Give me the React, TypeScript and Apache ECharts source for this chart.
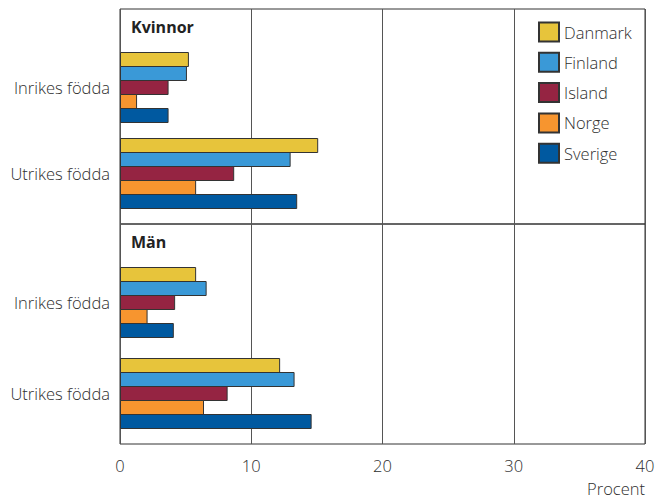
import React, { useEffect, useRef } from "react";
import * as echarts from "echarts";

const categories = ["Inrikes födda", "Utrikes födda"];
const countries = ["Danmark", "Finland", "Island", "Norge", "Sverige"];
const colors = ["#E7C43B", "#3A99D7", "#952442", "#F7952F", "#0059A0"];
// values per country: [Inrikes födda, Utrikes födda]
const kvinnor = [
  [5.25, 15.1],
  [5.1, 13.0],
  [3.7, 8.7],
  [1.3, 5.8],
  [3.7, 13.5],
];
const man = [
  [5.8, 12.2],
  [6.6, 13.3],
  [4.2, 8.2],
  [2.1, 6.4],
  [4.1, 14.6],
];
const xTicks = [0, 10, 20, 30, 40];
const panelTitles = ["Kvinnor", "Män"];
const unitLabel = "Procent";

const FONT = "'Open Sans', 'Liberation Sans', sans-serif";
const TXT = "#2e2e2e";
const FS = 16.5;

export default function App() {
  const ref = useRef<HTMLDivElement>(null);
  useEffect(() => {
    if (!ref.current) return;
    const chart = echarts.init(ref.current, null, { renderer: "svg" });
    const L = 120, R = 13;
    const grids = [
      { left: L, right: R, top: 9, height: 215, show: true, borderColor: "#333", borderWidth: 1, backgroundColor: "transparent" },
      { left: L, right: R, top: 224, height: 220, show: true, borderColor: "#333", borderWidth: 1, backgroundColor: "transparent" },
      { left: L, right: R, top: 44.5, height: 172 },
      { left: L, right: R, top: 257, height: 182 },
    ];
    const xMin = xTicks[0], xMax = xTicks[xTicks.length - 1], xInt = xTicks[1] - xTicks[0];
    const frameX = (gi: number, showLabels: boolean) => ({
      type: "value", gridIndex: gi, min: xMin, max: xMax, interval: xInt,
      axisLine: { show: false }, axisTick: { show: false },
      splitLine: { show: true, lineStyle: { color: "#555", width: 1 } },
      axisLabel: { show: showLabels, fontFamily: FONT, fontWeight: 300, fontSize: FS, color: TXT, margin: 13 },
    });
    const barX = (gi: number) => ({
      type: "value", gridIndex: gi, min: xMin, max: xMax, interval: xInt, show: false,
      splitLine: { show: false },
    });
    const frameY = (gi: number) => ({ type: "value", gridIndex: gi, show: false, splitLine: { show: false } });
    const barY = (gi: number) => ({
      type: "category", gridIndex: gi, data: categories, inverse: true,
      axisLine: { show: false }, axisTick: { show: false },
      axisLabel: { fontFamily: FONT, fontWeight: 300, fontSize: FS, color: TXT, margin: 10 },
    });
    const mk = (vals: number[][], axisIdx: number) =>
      countries.map((c, i) => ({
        name: c, type: "bar", xAxisIndex: axisIdx, yAxisIndex: axisIdx,
        data: vals[i], barWidth: 15, barGap: "-6.6667%",
        itemStyle: { color: colors[i], borderColor: "#333", borderWidth: 1 },
      }));
    chart.setOption({
      animation: false,
      grid: grids,
      xAxis: [frameX(0, false), frameX(1, true), barX(2), barX(3)],
      yAxis: [frameY(0), frameY(1), barY(2), barY(3)],
      legend: {
        data: countries, orient: "vertical", left: 538, top: 21.5, padding: 0,
        icon: "rect", itemWidth: 20, itemHeight: 19, itemGap: 9.3,
        textStyle: { fontFamily: FONT, fontWeight: 300, fontSize: FS, color: TXT },
      },
      series: [...mk(kvinnor, 2), ...mk(man, 3)],
      graphic: [
        { type: "text", left: 131, top: 19, style: { text: panelTitles[0], font: `bold 16px ${FONT}`, fill: "#222" } },
        { type: "text", left: 131, top: 234, style: { text: panelTitles[1], font: `bold 16px ${FONT}`, fill: "#222" } },
        { type: "text", right: 13, top: 480, style: { text: unitLabel, font: `300 ${FS}px ${FONT}`, fill: TXT } },
      ],
    });
    return () => chart.dispose();
  }, []);
  return <div ref={ref} style={{ position: "absolute", left: 0, top: 0, width: 658, height: 499 }} />;
}
